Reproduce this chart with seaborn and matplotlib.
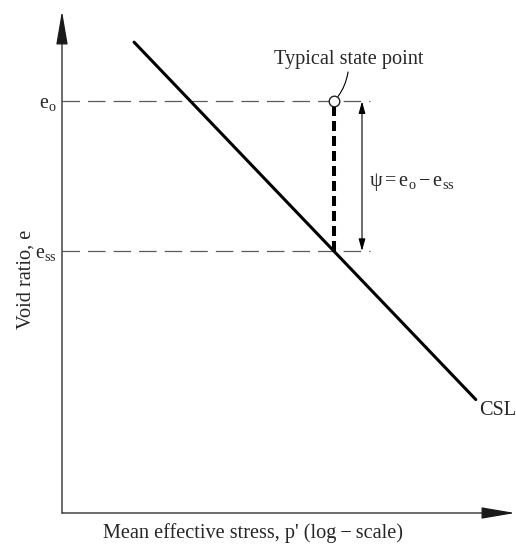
import matplotlib
matplotlib.use("Agg")
import matplotlib.pyplot as plt
from matplotlib.ticker import NullLocator
import pandas as pd
import seaborn as sns

# Critical state line (CSL) in e - log p' space
csl_p = [3.0, 550.0]
csl_e = [0.938, 0.226]

# Current state of the soil and the CSL void ratio at the same p'
state_p = [63.0]
state_e = [0.82]
e_o = 0.82
e_ss = 0.522

ref_line_end = 110.0   # reach of the dashed reference lines
psi_arrow_p = 97.0     # p' at which the psi dimension arrow sits

y_tick_values = [e_o, e_ss]
y_tick_labels = [r"$\mathrm{e}_\mathrm{o}$", r"$\mathrm{e}_\mathrm{ss}$"]
x_label = "Mean effective stress, p' (log\u2009\u2212\u2009scale)"
y_label = "Void ratio, e"
psi_label = r"$\mathrm{ψ} = \mathrm{e}_\mathrm{o} - \mathrm{e}_\mathrm{ss}$"
state_label = "Typical state point"
csl_label = "CSL"

sns.set_style("white")
plt.rcParams["font.family"] = ["Liberation Serif", "DejaVu Serif"]
plt.rcParams["mathtext.fontset"] = "custom"
plt.rcParams["mathtext.rm"] = "Liberation Serif"
plt.rcParams["mathtext.it"] = "Liberation Serif:italic"
plt.rcParams["mathtext.bf"] = "Liberation Serif:bold"
plt.rcParams["lines.scale_dashes"] = False

FS = 14.6

fig = plt.figure(figsize=(5.16, 5.48), dpi=100)
ax = fig.add_axes([62 / 516, 35 / 548, 453 / 516, 502 / 548])
ax.set_xscale("log")
ax.set_xlim(1, 1000)
ax.set_ylim(0, 1)
ax.patch.set_visible(False)
for sp in ax.spines.values():
    sp.set_visible(False)

# axes drawn as arrows
axis_arrow = dict(arrowstyle="-|>,head_length=2.1,head_width=0.36",
                  color="#1a1a1a", lw=0.9, shrinkA=0, shrinkB=0,
                  mutation_scale=10)
ax.annotate("", xy=(0, 1), xytext=(0, 0), xycoords="axes fraction",
            textcoords="axes fraction", arrowprops=axis_arrow)
ax.annotate("", xy=(1, 0), xytext=(0, 0), xycoords="axes fraction",
            textcoords="axes fraction", arrowprops=axis_arrow)

# dashed reference lines at e_o and e_ss
ax.hlines(y_tick_values, 1, ref_line_end, colors="#5a5a5a", lw=0.9,
          linestyles=[(0, (12.6, 5.8))])

# critical state line
csl = pd.DataFrame({"p": csl_p, "e": csl_e})
sns.lineplot(data=csl, x="p", y="e", color="black", lw=2.2, ax=ax)

# state parameter: vertical distance from the state point to the CSL
ax.plot([state_p[0], state_p[0]], [e_ss, e_o], color="black", lw=2.9,
        dashes=(7.2, 3.6), zorder=3)
sns.scatterplot(x=state_p, y=state_e, s=58, color="white",
                edgecolor="#222222", linewidth=1.0, zorder=5, ax=ax)

ax.annotate("", xy=(psi_arrow_p, e_o), xytext=(psi_arrow_p, e_ss),
            arrowprops=dict(arrowstyle="<|-|>,head_length=0.72,head_width=0.2",
                            lw=0.8, color="black", shrinkA=0, shrinkB=0,
                            mutation_scale=10))

ax.text(108, 0.651, psi_label, fontsize=FS, ha="left", va="baseline")
ax.text(577, 0.195, csl_label, fontsize=FS, ha="left", va="baseline")
ax.annotate(state_label, xy=(state_p[0], state_e[0]), xytext=(79.6, 0.904),
            ha="center", va="center", fontsize=FS,
            arrowprops=dict(arrowstyle="-",
                            connectionstyle="angle3,angleA=90,angleB=45",
                            lw=0.8, color="black", shrinkA=0, shrinkB=4.5))

# ticks: only the two void ratio markers
ax.set_xticks([])
ax.xaxis.set_minor_locator(NullLocator())
ax.set_yticks(y_tick_values, labels=y_tick_labels)
ax.yaxis.set_minor_locator(NullLocator())
ax.tick_params(axis="y", length=0, pad=3.6, labelsize=14.4)

ax.set_xlabel(x_label, fontsize=FS)
ax.set_ylabel(y_label, fontsize=FS)
ax.xaxis.label.set_visible(True)
ax.yaxis.label.set_visible(True)
ax.xaxis.set_label_coords(0.4216, -0.020)
ax.yaxis.set_label_coords(-0.058, 0.466)

fig.savefig("out.png", dpi=100)
